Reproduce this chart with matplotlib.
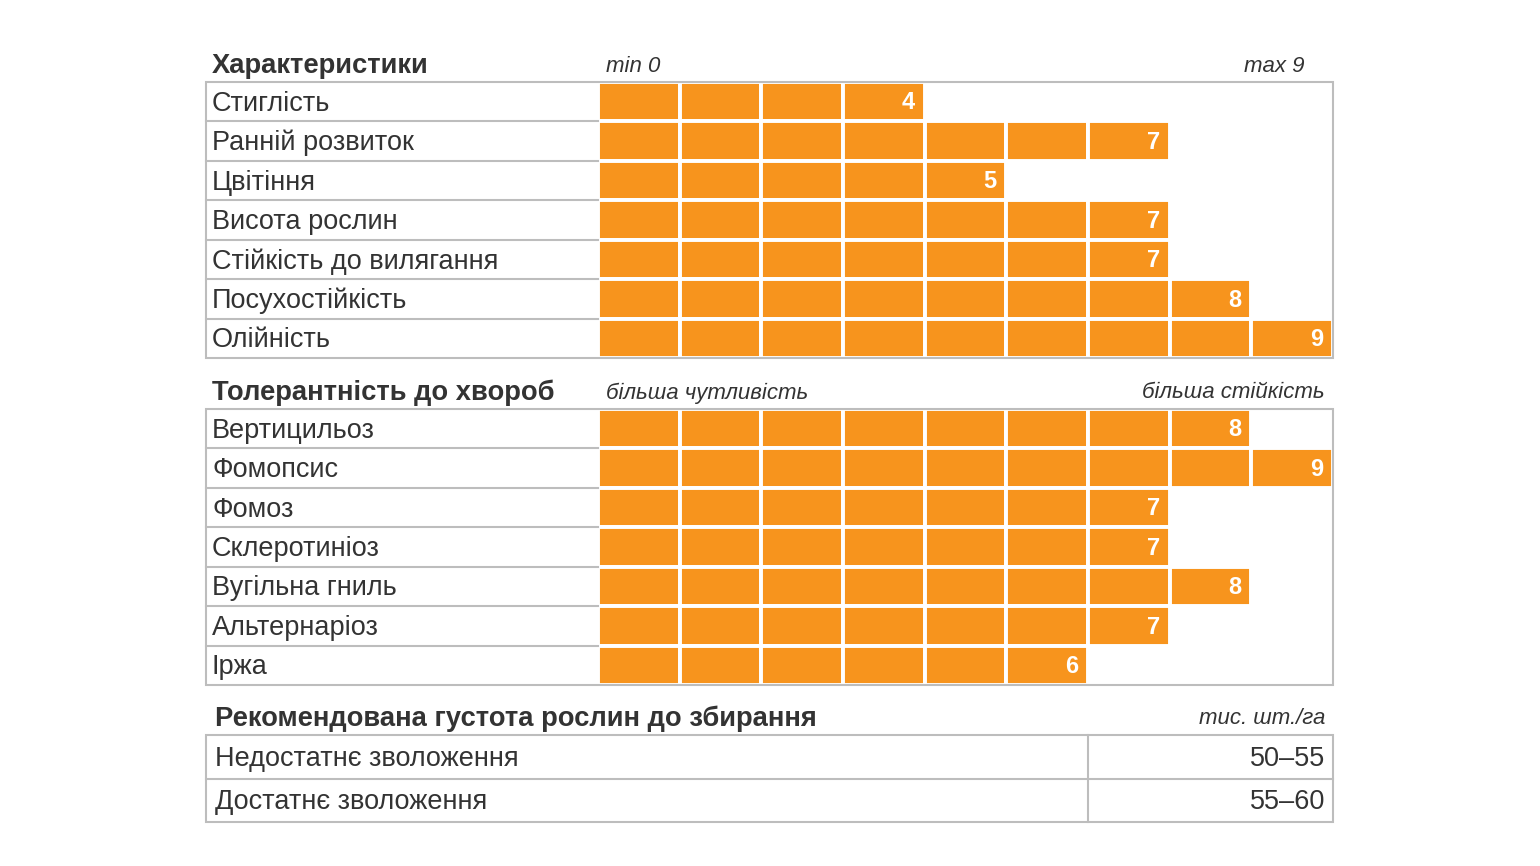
import matplotlib.pyplot as plt
from matplotlib.patches import Rectangle

plt.rcParams['font.family'] = ['Liberation Sans', 'DejaVu Sans']

# data
traits = ['Стиглість', 'Ранній розвиток', 'Цвітіння', 'Висота рослин',
          'Стійкість до вилягання', 'Посухостійкість', 'Олійність']
trait_scores = [4, 7, 5, 7, 7, 8, 9]

diseases = ['Вертицильоз', 'Фомопсис', 'Фомоз', 'Склеротиніоз',
            'Вугільна гниль', 'Альтернаріоз', 'Іржа']
disease_scores = [8, 9, 7, 7, 8, 7, 6]

density_rows = ['Недостатнє зволоження', 'Достатнє зволоження']
density_vals = ['50–55', '55–60']

ORANGE = '#F7941D'
GRID = '#BDBDBD'
TXT = '#333333'
W, H = 1540, 866

fig = plt.figure(figsize=(15.4, 8.66), dpi=100)
base = fig.add_axes([0, 0, 1, 1])
base.set_xlim(0, W)
base.set_ylim(H, 0)
base.axis('off')
base.set_zorder(2)
base.patch.set_alpha(0)

X0, XB, X1 = 206, 598, 1333
LBL = 19.5
HDR = 19.7
NOTE = 16


def section(top, bottom, title, left_note, right_note, right_x, names, scores):
    n = len(names)
    rh = (bottom - top) / n
    base.text(212, top - 16, title, fontsize=HDR, fontweight='bold', color=TXT,
              va='center')
    base.text(606, top - 16, left_note, fontsize=NOTE, style='italic', color=TXT,
              va='center')
    base.text(right_x, top - 16, right_note, fontsize=NOTE, style='italic',
              color=TXT, va='center', ha='right')
    for i, name in enumerate(names):
        base.text(212, top + rh * (i + 0.5) + 2, name, fontsize=LBL,
                  color=TXT, va='center')
        if i > 0:
            base.plot([X0, XB], [top + rh * i] * 2, color=GRID, lw=1.5)
    base.add_patch(Rectangle((X0, top), X1 - X0, bottom - top, fill=False,
                             edgecolor=GRID, lw=1.5))

    ax = fig.add_axes([XB / W, 1 - bottom / H, (X1 - XB) / W, (bottom - top) / H])
    ax.set_zorder(1)
    ax.set_xlim(0, 9)
    ax.set_ylim(n - 0.5, -0.5)
    ax.axis('off')
    ax.patch.set_alpha(0)
    for i, s in enumerate(scores):
        ax.barh([i] * s, [1] * s, left=list(range(s)), height=1.0,
                color=ORANGE, edgecolor='white', linewidth=2.8)
        ax.text(s - 0.12, i + 0.03, str(s), ha='right', va='center',
                color='white', fontsize=17, fontweight='bold')


section(82, 358, 'Характеристики', 'min 0', 'max 9', 1304, traits, trait_scores)
section(409, 685, 'Толерантність до хвороб', 'більша чутливість',
        'більша стійкість', 1325, diseases, disease_scores)

# density table
top, bottom = 735, 822
rh = (bottom - top) / len(density_rows)
base.text(215, top - 16, 'Рекомендована густота рослин до збирання',
          fontsize=HDR, fontweight='bold', color=TXT, va='center')
base.text(1325, top - 16, 'тис. шт./га', fontsize=NOTE, style='italic',
          color=TXT, va='center', ha='right')
for i, (name, val) in enumerate(zip(density_rows, density_vals)):
    y = top + rh * (i + 0.5) + 2
    base.text(215, y, name, fontsize=LBL, color=TXT, va='center')
    base.text(1325, y, val, fontsize=LBL, color=TXT, va='center', ha='right')
    if i > 0:
        base.plot([X0, X1], [top + rh * i] * 2, color=GRID, lw=1.5)
base.plot([1088, 1088], [top, bottom], color=GRID, lw=1.5)
base.add_patch(Rectangle((X0, top), X1 - X0, bottom - top, fill=False,
                         edgecolor=GRID, lw=1.5))

fig.savefig('out.png', dpi=100, facecolor='white')
